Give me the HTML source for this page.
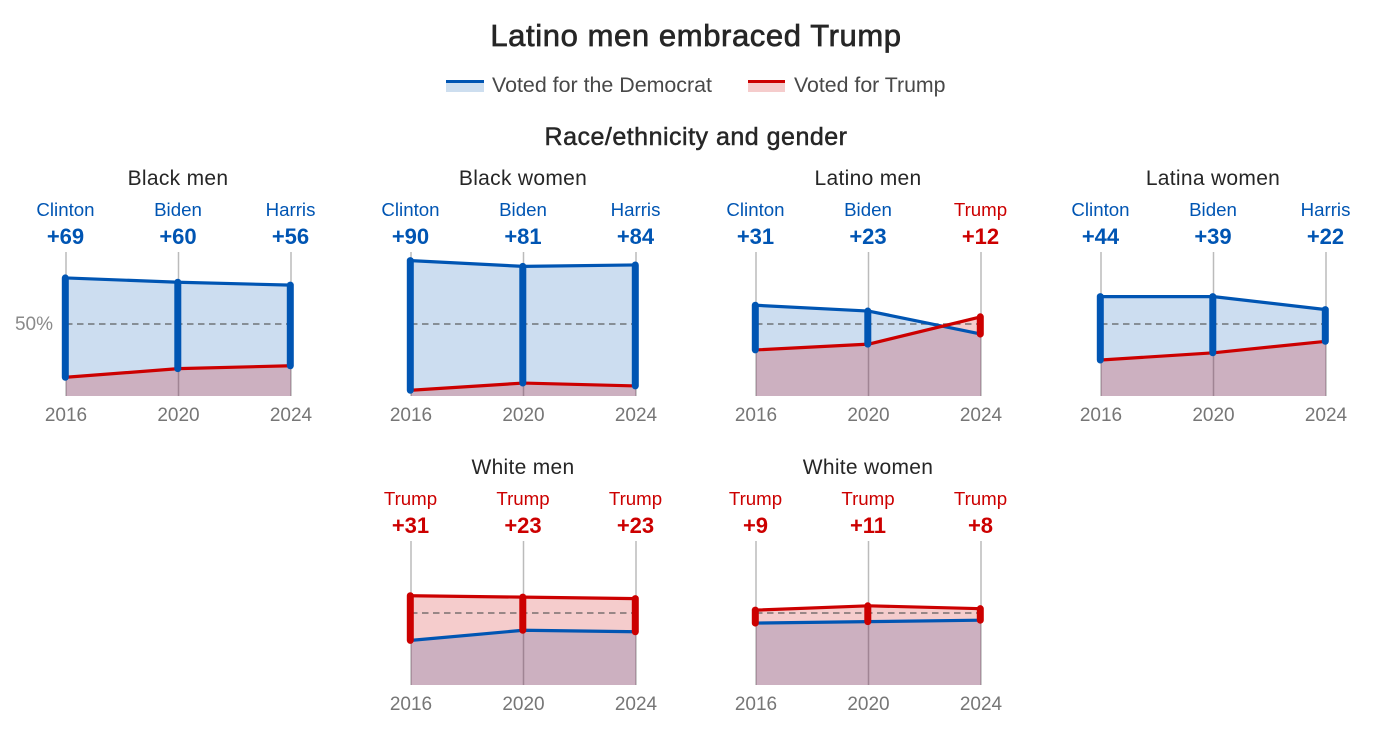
<!DOCTYPE html>
<html lang="en">
<head>
<meta charset="utf-8">
<title>Latino men embraced Trump</title>
<style>
html,body{margin:0;padding:0;background:#fff;width:1399px;height:749px;overflow:hidden}
svg{display:block;font-family:"Liberation Sans",sans-serif}
</style>
</head>
<body>
<svg id="chart" xmlns="http://www.w3.org/2000/svg" width="1399" height="749" viewBox="0 0 1399 749">
  <text x="696" y="46" text-anchor="middle" font-size="31" letter-spacing="0.6" fill="#262626" stroke="#262626" stroke-width="0.7">Latino men embraced Trump</text>
  <g>
    <g>
      <rect x="446" y="80" width="38" height="12" fill="#cddeef"/>
      <rect x="446" y="80" width="38" height="3" fill="#0055b3"/>
      <text x="492" y="92" font-size="21.4" fill="#484848">Voted for the Democrat</text>
    </g>
    <g>
      <rect x="748" y="80" width="37" height="12" fill="#f5cccc"/>
      <rect x="748" y="80" width="37" height="3" fill="#cc0000"/>
      <text x="794" y="92" font-size="21.3" fill="#484848">Voted for Trump</text>
    </g>
  </g>
  <text x="696" y="145" text-anchor="middle" font-size="25" letter-spacing="0.5" fill="#262626" stroke="#262626" stroke-width="0.5">Race/ethnicity and gender</text>
  <g id="panels"></g>
</svg>
<script>
// Chart data (percent of vote by group, election by election)
const years = ["2016", "2020", "2024"];
const groups = ["Black men", "Black women", "Latino men", "Latina women", "White men", "White women"];
const demShare = [
  [82, 79, 77],
  [94, 90, 91],
  [63, 59, 43],
  [69, 69, 60],
  [31, 38, 37],
  [43, 44, 45]
];
const trumpShare = [
  [13, 19, 21],
  [4, 9, 7],
  [32, 36, 55],
  [25, 30, 38],
  [62, 61, 60],
  [52, 55, 53]
];
const demCandidates = ["Clinton", "Biden", "Harris"];
const repCandidate = "Trump";
const refLabel = "50%";
const refValue = 50;

// Layout
const SVGNS = "http://www.w3.org/2000/svg";
const BLUE = "#0055b3", RED = "#cc0000";
const colLeft = [66, 411, 756, 1101];
const plotWidth = 225;
const plotHeight = 144;
const rowBase = [396, 685];
const root = document.getElementById("panels");

function xAxis(left, i) { return left + i * plotWidth / (years.length - 1); }
function yAxis(base, v) { return base - v / 100 * plotHeight; }
function make(tag, parent, props) {
  const el = document.createElementNS(SVGNS, tag);
  for (const k in props) el.setAttribute(k, props[k]);
  parent.appendChild(el);
  return el;
}
function areaPath(left, base, vals) {
  let d = "M" + xAxis(left, 0) + " " + base;
  vals.forEach(function (v, i) { d += "L" + xAxis(left, i) + " " + yAxis(base, v); });
  return d + "L" + xAxis(left, vals.length - 1) + " " + base + "Z";
}
function linePath(left, base, vals) {
  return vals.map(function (v, i) {
    return (i ? "L" : "M") + xAxis(left, i) + " " + yAxis(base, v);
  }).join("");
}

groups.forEach(function (group, p) {
  const col = p < 4 ? p : p - 3;
  const left = colLeft[col];
  const base = rowBase[p < 4 ? 0 : 1];
  const dem = demShare[p];
  const rep = trumpShare[p];
  const centre = xAxis(left, 1) - 0.5;

  const g = make("g", root, {});
  
  

  const title = make("text", g, { x: centre, y: base - 211, "text-anchor": "middle", "font-size": 21, "letter-spacing": 0.3, fill: "#262626" });
  title.textContent = group;
  
  

  years.forEach(function (year, i) {
    const x = xAxis(left, i);
    const demWins = dem[i] > rep[i];
    const colour = demWins ? BLUE : RED;

    const tick = make("line", g, { x1: x, x2: x, y1: base - plotHeight, y2: base, stroke: "#bbbbbb", "stroke-width": 1.5 });
    
    

    const name = make("text", g, { x: x - 0.5, y: base - 180, "text-anchor": "middle", "font-size": 18.7, fill: colour });
    name.textContent = demWins ? demCandidates[i] : repCandidate;
    
    

    const margin = make("text", g, { x: x - 0.5, y: base - 152, "text-anchor": "middle", "font-size": 22, "font-weight": "bold", fill: colour });
    margin.textContent = "+" + Math.abs(dem[i] - rep[i]);
    
    

    const yr = make("text", g, { x: x, y: base + 25, "text-anchor": "middle", "font-size": 19, fill: "#767676" });
    yr.textContent = year;
    
    
  });

  const demArea = make("path", g, { d: areaPath(left, base, dem), fill: BLUE, "fill-opacity": 0.2 });
  
  

  const repArea = make("path", g, { d: areaPath(left, base, rep), fill: RED, "fill-opacity": 0.2 });
  
  

  const ref = make("line", g, { x1: left, x2: xAxis(left, years.length - 1), y1: yAxis(base, refValue), y2: yAxis(base, refValue), stroke: "#505050", "stroke-opacity": 0.75, "stroke-width": 1.6, "stroke-dasharray": "6.5 4.5" });
  
  

  if (p === 0) {
    const refText = make("text", g, { x: 53, y: yAxis(base, refValue) + 6, "text-anchor": "end", "font-size": 19, fill: "#8a8a8a" });
    refText.textContent = refLabel;
    
    
  }

  const demLine = make("path", g, { d: linePath(left, base, dem), fill: "none", stroke: BLUE, "stroke-width": 3.2, "stroke-linejoin": "round" });
  
  

  const repLine = make("path", g, { d: linePath(left, base, rep), fill: "none", stroke: RED, "stroke-width": 3.2, "stroke-linejoin": "round" });
  
  

  years.forEach(function (year, i) {
    const x = xAxis(left, i) - 0.7;
    const bar = make("line", g, { x1: x, x2: x, y1: yAxis(base, dem[i]), y2: yAxis(base, rep[i]), stroke: dem[i] > rep[i] ? BLUE : RED, "stroke-width": 7, "stroke-linecap": "round" });
    
    
  });
});
</script>
</body>
</html>
